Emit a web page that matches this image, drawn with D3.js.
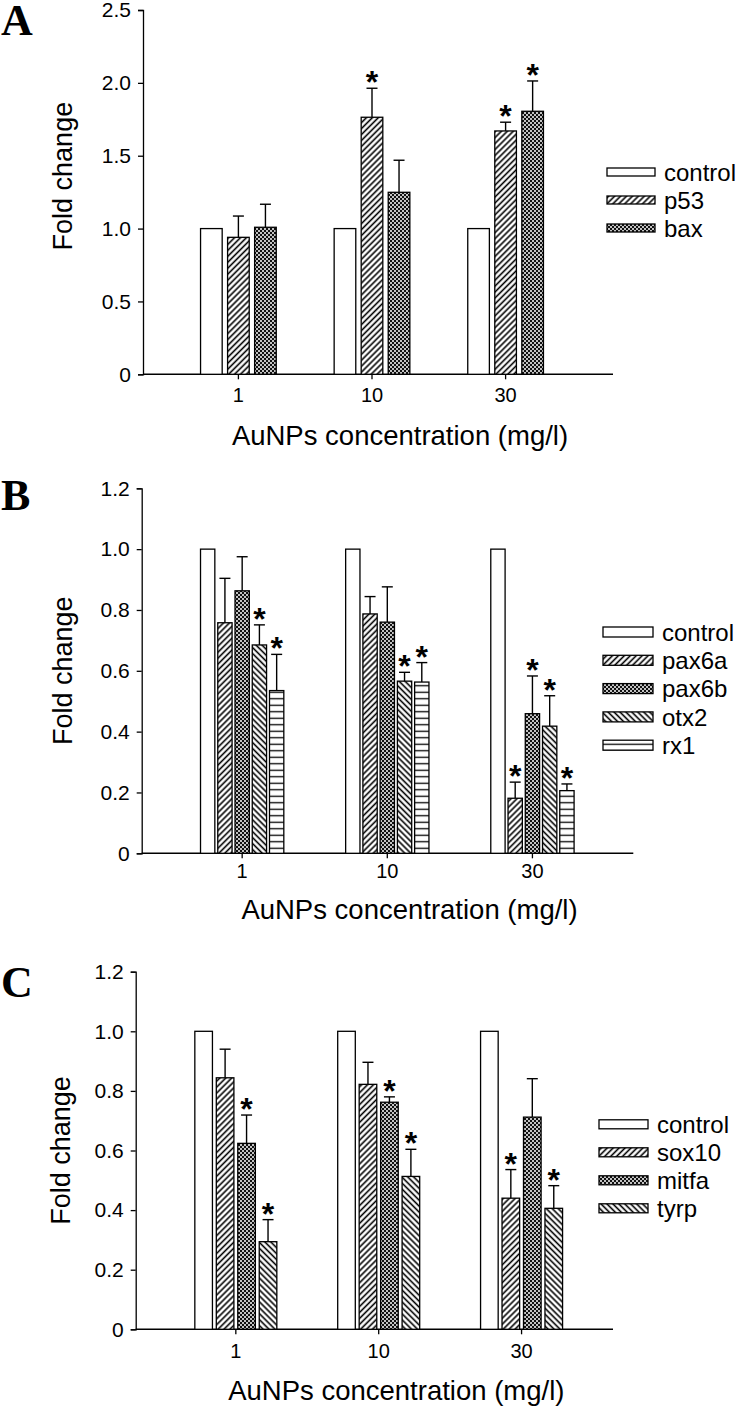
<!DOCTYPE html>
<html><head><meta charset="utf-8">
<script src="https://cdn.jsdelivr.net/npm/d3@7"></script>
<style>
body{margin:0;background:#fff;}
svg{display:block;font-family:"Liberation Sans",Arial,sans-serif;}
</style></head><body>
<svg id="chart" width="742" height="1406"></svg>
<script>
// ---------- data ----------
const concentrations = ["1", "10", "30"];

// Panel A
const seriesA = ["control", "p53", "bax"];
const aControl = [1.00, 1.00, 1.00];
const aP53 = [0.94, 1.764, 1.67];
const aP53Err = [0.146, 0.199, 0.06];
const aP53Sig = [false, true, true];
const aBax = [1.009, 1.249, 1.805];
const aBaxErr = [0.158, 0.22, 0.208];
const aBaxSig = [false, false, true];
const yTicksA = [0, 0.5, 1.0, 1.5, 2.0, 2.5];

// Panel B
const seriesB = ["control", "pax6a", "pax6b", "otx2", "rx1"];
const bControl = [1.00, 1.00, 1.00];
const bPax6a = [0.758, 0.787, 0.181];
const bPax6aErr = [0.146, 0.057, 0.053];
const bPax6aSig = [false, false, true];
const bPax6b = [0.863, 0.760, 0.459];
const bPax6bErr = [0.112, 0.116, 0.124];
const bPax6bSig = [false, false, true];
const bOtx2 = [0.685, 0.566, 0.418];
const bOtx2Err = [0.066, 0.029, 0.10];
const bOtx2Sig = [true, true, true];
const bRx1 = [0.535, 0.563, 0.206];
const bRx1Err = [0.119, 0.064, 0.022];
const bRx1Sig = [true, true, true];
const yTicksB = [0, 0.2, 0.4, 0.6, 0.8, 1.0, 1.2];

// Panel C
const seriesC = ["control", "sox10", "mitfa", "tyrp"];
const cControl = [1.00, 1.00, 1.00];
const cSox10 = [0.844, 0.822, 0.44];
const cSox10Err = [0.096, 0.074, 0.096];
const cSox10Sig = [false, false, true];
const cMitfa = [0.624, 0.762, 0.712];
const cMitfaErr = [0.095, 0.018, 0.129];
const cMitfaSig = [true, true, false];
const cTyrp = [0.294, 0.513, 0.406];
const cTyrpErr = [0.074, 0.091, 0.076];
const cTyrpSig = [true, true, true];
const yTicksC = [0, 0.2, 0.4, 0.6, 0.8, 1.0, 1.2];

const zeros = [0, 0, 0];
const none = [false, false, false];

// ---------- patterns ----------
const svg = d3.select("#chart");
const defs = svg.append("defs");
function stripe(id, angle, size, lw) {
  const p = defs.append("pattern").attr("id", id).attr("patternUnits", "userSpaceOnUse")
    .attr("width", size).attr("height", size).attr("patternTransform", `rotate(${angle})`);
  p.append("rect").attr("width", size).attr("height", size).attr("fill", "#fff");
  p.append("line").attr("x1", size / 2).attr("x2", size / 2).attr("y1", -1).attr("y2", size + 1)
    .attr("stroke", "#000").attr("stroke-width", lw);
}
stripe("fwd", 45, 4.2, 1.6);
stripe("bwd", -45, 4.2, 1.6);
stripe("hor", 90, 6.5, 1.3);
{
  const p = defs.append("pattern").attr("id", "dots").attr("patternUnits", "userSpaceOnUse")
    .attr("width", 4).attr("height", 4);
  p.append("rect").attr("width", 4).attr("height", 4).attr("fill", "#111");
  p.append("circle").attr("cx", 1).attr("cy", 1).attr("r", 1.0).attr("fill", "#fff");
  p.append("circle").attr("cx", 3).attr("cy", 3).attr("r", 1.0).attr("fill", "#fff");
}
const fills = { control: "#fff", p53: "url(#fwd)", bax: "url(#dots)",
  pax6a: "url(#fwd)", pax6b: "url(#dots)", otx2: "url(#bwd)", rx1: "url(#hor)",
  sox10: "url(#fwd)", mitfa: "url(#dots)", tyrp: "url(#bwd)" };

// ---------- panel drawer ----------
function drawPanel(cfg) {
  const g = svg.append("g");
  const y = d3.scaleLinear().domain([0, cfg.yMax]).range([cfg.y0, cfg.yTop]);
  const step = cfg.centers[1] - cfg.centers[0];
  const x = d3.scaleBand().domain(concentrations)
    .range([cfg.centers[0] - step / 2, cfg.centers[2] + step / 2]).padding(0);
  const inner = d3.scaleBand().domain(cfg.series)
    .range([-cfg.groupW / 2, cfg.groupW / 2]).paddingInner(cfg.pad).paddingOuter(0);

  // y axis
  const yAxis = d3.axisLeft(y).tickValues(cfg.yTicks).tickSize(5).tickPadding(7)
    .tickFormat(d => d === 0 ? "0" : d3.format(".1f")(d));
  const ya = g.append("g").attr("transform", `translate(${cfg.xAxis0},0)`).call(yAxis);
  ya.selectAll("text").attr("font-size", 21).attr("fill", "#000");
  ya.selectAll("line,path").attr("stroke", "#000").attr("stroke-width", 1.3);

  // x axis
  const xAxis = d3.axisBottom(x).tickSize(5).tickSizeOuter(0).tickPadding(cfg.xPad);
  const xa = g.append("g").attr("transform", `translate(0,${cfg.y0})`).call(xAxis);
  xa.select(".domain").remove();
  xa.selectAll("text").attr("font-size", 20).attr("fill", "#000");
  xa.selectAll("line").attr("stroke", "#000").attr("stroke-width", 1.3);
  g.append("line").attr("x1", cfg.xAxis0).attr("x2", cfg.xAxis1)
    .attr("y1", cfg.y0).attr("y2", cfg.y0).attr("stroke", "#000").attr("stroke-width", 1.5);

  // bars
  const rows = [];
  cfg.series.forEach((s, si) => {
    concentrations.forEach((c, ci) => {
      rows.push({ s, c, v: cfg.values[si][ci], e: cfg.errors[si][ci], sig: cfg.sig[si][ci] });
    });
  });
  const bx = d => x(d.c) + x.bandwidth() / 2 + inner(d.s);
  const bw = inner.bandwidth();

  g.selectAll(".err").data(rows.filter(d => d.e > 0)).join("g").each(function (d) {
    const cx = bx(d) + bw / 2;
    const el = d3.select(this);
    el.append("line").attr("x1", cx).attr("x2", cx).attr("y1", y(d.v)).attr("y2", y(d.v + d.e))
      .attr("stroke", "#000").attr("stroke-width", 1.4);
    el.append("line").attr("x1", cx - 5.5).attr("x2", cx + 5.5).attr("y1", y(d.v + d.e)).attr("y2", y(d.v + d.e))
      .attr("stroke", "#000").attr("stroke-width", 1.4);
  });
  g.selectAll(".bar").data(rows).join("rect")
    .attr("x", bx).attr("width", bw)
    .attr("y", d => y(d.v)).attr("height", d => y(0) - y(d.v))
    .attr("fill", d => fills[d.s]).attr("stroke", "#000").attr("stroke-width", 1.3);

  g.selectAll(".star").data(rows.filter(d => d.sig)).join("text")
    .attr("x", d => bx(d) + bw / 2).attr("y", d => y(d.v + d.e) + 5)
    .attr("text-anchor", "middle").attr("font-size", 32).attr("font-weight", "bold").text("*");

  // axis titles
  g.append("text").attr("transform", `translate(${cfg.yTitleX},${(cfg.y0 + cfg.yTop) / 2 + cfg.yTitleDy}) rotate(-90)`)
    .attr("text-anchor", "middle").attr("font-size", 27).text("Fold change");
  g.append("text").attr("x", (cfg.xAxis0 + cfg.xAxis1) / 2 + 22).attr("y", cfg.y0 + cfg.titleDy)
    .attr("text-anchor", "middle").attr("font-size", 27.5).text("AuNPs concentration (mg/l)");

  // panel letter
  g.append("text").attr("x", 1).attr("y", cfg.letterY).attr("font-family", "Liberation Serif, Times New Roman, serif")
    .attr("font-weight", "bold").attr("font-size", 44).text(cfg.letter);

  // legend
  const lg = g.append("g");
  cfg.series.forEach((s, i) => {
    const cy = cfg.legY + i * cfg.legStep;
    lg.append("rect").attr("x", cfg.legX).attr("y", cy - cfg.legH / 2).attr("width", cfg.legW).attr("height", cfg.legH)
      .attr("fill", fills[s]).attr("stroke", "#000").attr("stroke-width", 1.3);
    lg.append("text").attr("x", cfg.legX + cfg.legW + 9).attr("y", cy).attr("dy", "0.36em")
      .attr("font-size", 24).text(s);
  });
}

drawPanel({
  letter: "A", letterY: 35, series: seriesA, yMax: 2.5, yTicks: yTicksA,
  values: [aControl, aP53, aBax], errors: [zeros, aP53Err, aBaxErr], sig: [none, aP53Sig, aBaxSig],
  y0: 374.3, yTop: 10, xAxis0: 143, xAxis1: 613, centers: [238.3, 371.7, 505.7],
  groupW: 75.7, pad: 0.2, yTitleX: 72, yTitleDy: -16, xPad: 9, titleDy: 71,
  legX: 607, legY: 172, legStep: 28, legW: 48, legH: 8
});
drawPanel({
  letter: "B", letterY: 510, series: seriesB, yMax: 1.2, yTicks: yTicksB,
  values: [bControl, bPax6a, bPax6b, bOtx2, bRx1], errors: [zeros, bPax6aErr, bPax6bErr, bOtx2Err, bRx1Err],
  sig: [none, bPax6aSig, bPax6bSig, bOtx2Sig, bRx1Sig],
  y0: 853.3, yTop: 488.3, xAxis0: 141.7, xAxis1: 633.3, centers: [242.3, 387.7, 532.3],
  groupW: 83.3, pad: 0.17, yTitleX: 72, yTitleDy: 0, xPad: 6, titleDy: 66,
  legX: 603, legY: 632, legStep: 28.3, legW: 50, legH: 10
});
drawPanel({
  letter: "C", letterY: 997, series: seriesC, yMax: 1.2, yTicks: yTicksC,
  values: [cControl, cSox10, cMitfa, cTyrp], errors: [zeros, cSox10Err, cMitfaErr, cTyrpErr],
  sig: [none, cSox10Sig, cMitfaSig, cTyrpSig],
  y0: 1329.3, yTop: 971.7, xAxis0: 135.7, xAxis1: 613, centers: [235.7, 378.3, 521.7],
  groupW: 82, pad: 0.18, yTitleX: 70, yTitleDy: 0, xPad: 10, titleDy: 71,
  legX: 599, legY: 1124.3, legStep: 28, legW: 49, legH: 9
});
</script>
</body></html>
